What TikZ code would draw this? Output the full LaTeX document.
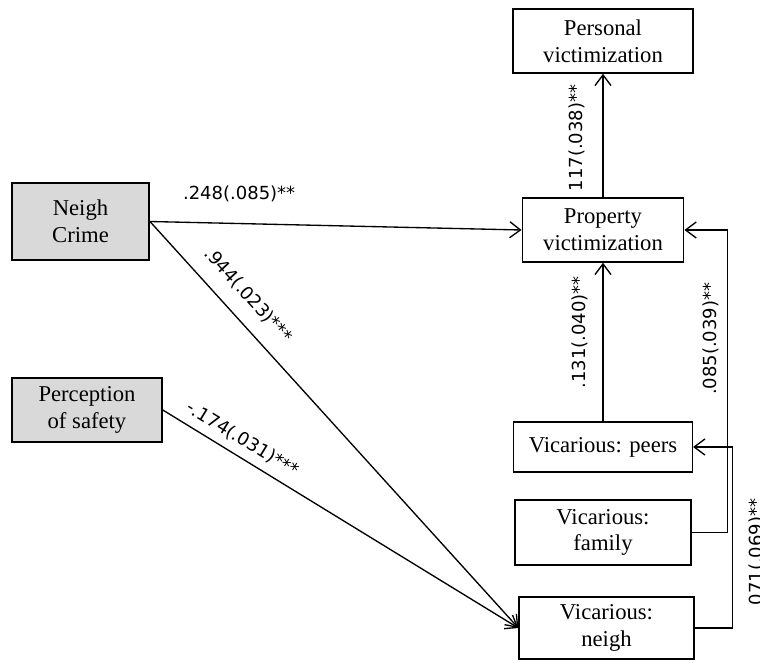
\documentclass[tikz,border=0pt]{standalone}
\usepackage{fontspec}
\setmainfont{Liberation Serif}
\newfontfamily\coeffont{DejaVu Sans}
\usetikzlibrary{arrows.meta}

\begin{document}
\begin{tikzpicture}[x=0.75pt, y=-0.75pt, ->, >={Straight Barb[length=8pt,width=12pt]}, line width=1pt, align=center,
	font=\fontsize{17}{20}\selectfont,
	var/.style={draw, line width=1.2pt, inner sep=2pt},
	exo/.style={var, fill=black!15},
	coef/.style={font=\coeffont\fontsize{13.5}{16}\selectfont, inner sep=1pt}]

	\useasboundingbox (0,0) rectangle (760,663);

	\node[var, minimum width=135pt, minimum height=48pt]	(pers)	at	(603, 41)	{Personal\\victimization};
	\node[var, minimum width=121pt, minimum height=48pt]	(prop)	at	(603, 230)	{Property\\victimization};
	\node[exo, minimum width=103pt, minimum height=58pt]	(crime)	at	(80.5, 221.5)	{Neigh\\Crime};
	\node[exo, minimum width=112.5pt, minimum height=48pt]	(safe)	at	(87, 410)	{Perception\\of safety};
	\node[var, minimum width=134pt, minimum height=37.5pt]	(peers)	at	(603, 447)	{Vicarious: peers};
	\node[var, minimum width=132pt, minimum height=49pt]	(fam)	at	(603, 532.5)	{Vicarious:\\family};
	\node[var, minimum width=131pt, minimum height=46.5pt]	(vneigh)	at	(606.5, 628)	{Vicarious:\\neigh};

	\path	(crime.east)	edge	node[coef, above=15pt, pos=0.24]	{.248(.085)**}	(prop.west)
			(crime.east)	edge	node[coef, sloped, above=10pt, pos=0.22]	{.944(.023)***}	(vneigh.west)
			(safe.east)	edge	node[coef, sloped, above=5pt, pos=0.2]	{-.174(.031)***}	(vneigh.west)
			(prop.north)	edge	node[coef, sloped, above=12pt, pos=0.48]	{117(.038)**}	(pers.south)
			(peers.north)	edge	node[coef, sloped, above=10pt, pos=0.56]	{.131(.040)**}	(prop.south);

	\draw	(fam.east) -- ++(36,0) |- node[coef, sloped, above=5pt, pos=0.32] {.085(.039)**} (prop.east);
	\draw	(vneigh.east) -- ++(38,0) |- node[coef, sloped, below=11pt, pos=0.21] {071(.069)**} (peers.east);

\end{tikzpicture}
\end{document}
